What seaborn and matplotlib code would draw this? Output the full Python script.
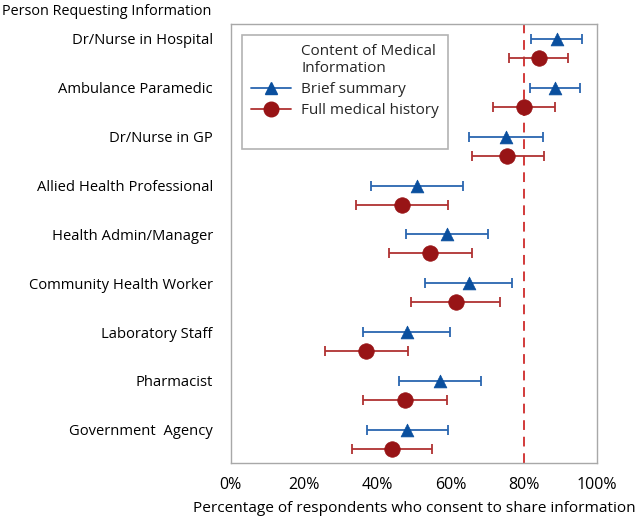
import matplotlib
matplotlib.use("Agg")
import matplotlib.pyplot as plt
import seaborn as sns
import pandas as pd
import numpy as np
from matplotlib.lines import Line2D

categories = ["Dr/Nurse in Hospital", "Ambulance Paramedic", "Dr/Nurse in GP",
              "Allied Health Professional", "Health Admin/Manager",
              "Community Health Worker", "Laboratory Staff", "Pharmacist",
              "Government  Agency"]

brief_mean = [0.89, 0.885, 0.75, 0.508, 0.589, 0.65, 0.48, 0.572, 0.481]
brief_low = [0.82, 0.816, 0.65, 0.383, 0.479, 0.531, 0.361, 0.46, 0.371]
brief_high = [0.958, 0.954, 0.853, 0.634, 0.701, 0.768, 0.597, 0.683, 0.594]

full_mean = [0.84, 0.80, 0.755, 0.467, 0.544, 0.614, 0.37, 0.475, 0.439]
full_low = [0.76, 0.716, 0.657, 0.342, 0.431, 0.491, 0.258, 0.361, 0.331]
full_high = [0.92, 0.885, 0.856, 0.594, 0.659, 0.735, 0.484, 0.59, 0.549]

series = ["Brief summary", "Full medical history"]
threshold = 0.80

sns.set_style("white")
plt.rcParams['font.family'] = ['Open Sans', 'DejaVu Sans']

rows = []
for i, c in enumerate(categories):
    rows.append(dict(cat=c, pos=i, series=series[0], m=brief_mean[i], lo=brief_low[i], hi=brief_high[i]))
    rows.append(dict(cat=c, pos=i + 0.39, series=series[1], m=full_mean[i], lo=full_low[i], hi=full_high[i]))
df = pd.DataFrame(rows)

fig = plt.figure(figsize=(6.36, 5.17), dpi=100)
ax = fig.add_axes([0.363, 0.1044, 0.576, 0.8496])

line_cols = {series[0]: "#2a66b0", series[1]: "#b03232"}
mark_cols = {series[0]: "#0a4f9e", series[1]: "#981416"}
markers = {series[0]: "^", series[1]: "o"}
msize = {series[0]: 85, series[1]: 125}

ax.axvline(threshold, color="#d23a3a", lw=1.4, ls=(0, (5, 3.5)), zorder=1)

for s in series:
    d = df[df.series == s]
    ax.errorbar(d.m, d.pos, xerr=[d.m - d.lo, d.hi - d.m], fmt="none",
                ecolor=line_cols[s], elinewidth=1.3, capsize=3.5, capthick=1.3, zorder=2)
    sns.scatterplot(data=d, x="m", y="pos", marker=markers[s], color=mark_cols[s],
                    s=msize[s], edgecolor=mark_cols[s], linewidth=0.5, ax=ax,
                    zorder=3, legend=False)

ax.set_xlim(0, 1.0)
ax.set_ylim(8.68, -0.31)
ax.set_xticks(np.linspace(0, 1, 6))
ax.set_xticklabels([f"{int(v*100)}%" for v in np.linspace(0, 1, 6)], fontsize=11.5, color="#000000")
ax.set_yticks(range(len(categories)))
ax.set_yticklabels(categories, fontsize=10.6, color="#000000")
ax.tick_params(axis="x", length=4, width=0.8, color="#a0a0a0", direction="out", pad=6)
ax.tick_params(axis="y", length=0, pad=13)
for sp in ax.spines.values():
    sp.set_color("#a8a8a8")
    sp.set_linewidth(1.0)
ax.set_xlabel("Percentage of respondents who consent to share information", fontsize=11.1,
              color="#000000", labelpad=6)
ax.set_ylabel("")

fig.text(0.003, 0.992, "Person Requesting Information", fontsize=10.4, color="#000000",
         ha="left", va="top")

handles = [
    Line2D([], [], color="none", label="Content of Medical\nInformation"),
    Line2D([], [], color=line_cols[series[0]], marker="^", markersize=9,
           markerfacecolor=mark_cols[series[0]], markeredgecolor=mark_cols[series[0]], lw=1.3, label=series[0]),
    Line2D([], [], color=line_cols[series[1]], marker="o", markersize=10.5,
           markerfacecolor=mark_cols[series[1]], markeredgecolor=mark_cols[series[1]], lw=1.3, label=series[1]),
    Line2D([], [], color="none", label=" "),
]
leg = ax.legend(handles=handles, loc="upper left", bbox_to_anchor=(0.03, 0.975),
                fontsize=11, frameon=True, fancybox=False, edgecolor="#a0a0a0",
                handlelength=2.6, handletextpad=0.7, borderpad=0.6, labelspacing=0.4,
                borderaxespad=0)
leg.get_frame().set_linewidth(1.2)

fig.savefig("out.png", dpi=100)
